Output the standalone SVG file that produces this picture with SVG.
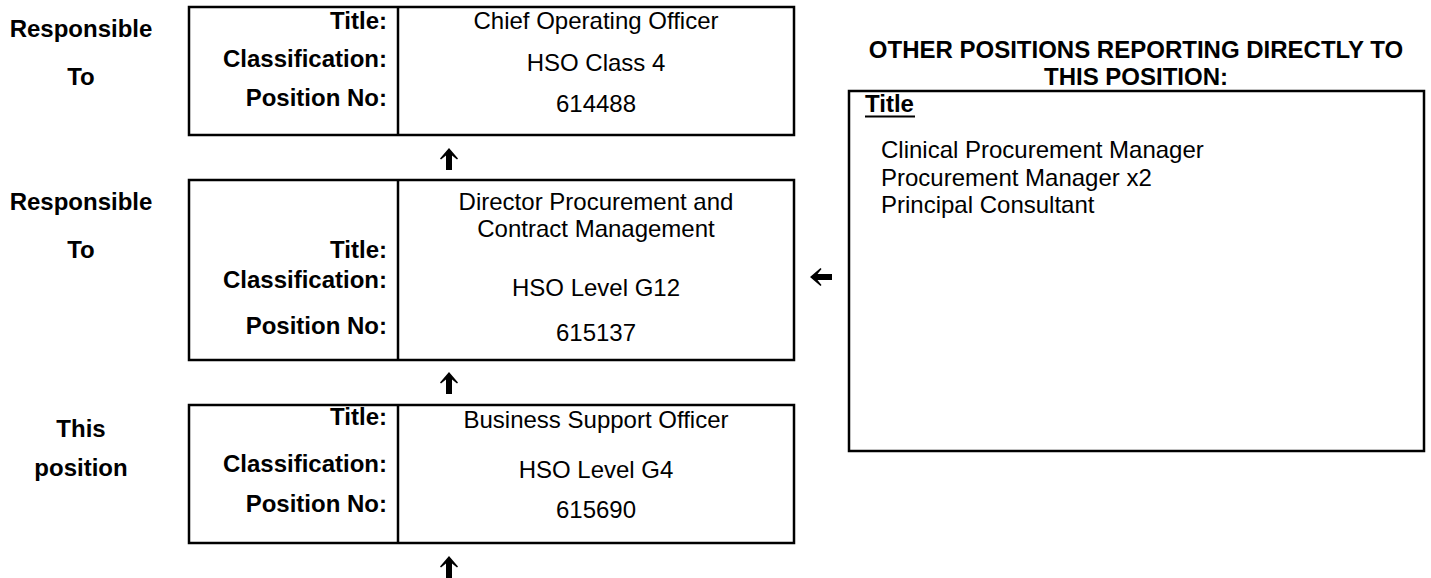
<svg xmlns="http://www.w3.org/2000/svg" xmlns:xlink="http://www.w3.org/1999/xlink" width="1431" height="578" viewBox="0 0 1431 578">
  <style>
    .box { fill: #ffffff; stroke: #000000; stroke-width: 2.5; }
    .div { stroke: #000000; stroke-width: 2.5; }
    .lbl { font-family: "Liberation Sans", Arial, sans-serif; font-size: 24px; font-weight: bold; fill: #000000; text-anchor: end; }
    .val { font-family: "Liberation Sans", Arial, sans-serif; font-size: 24px; fill: #000000; text-anchor: middle; }
    .side { font-family: "Liberation Sans", Arial, sans-serif; font-size: 24px; font-weight: bold; fill: #000000; text-anchor: middle; }
    .head { font-family: "Liberation Sans", Arial, sans-serif; font-size: 24px; font-weight: bold; fill: #000000; text-anchor: middle; }
    .item { font-family: "Liberation Sans", Arial, sans-serif; font-size: 24px; fill: #000000; }
  </style>
  <defs>
    <!-- bold block arrow pointing up, origin at its centre -->
    <path id="arrowUp" d="M0,-11 L9,-0.5 L8,0.5 L3,-3.5 L3,11 L-3,11 L-3,-3.5 L-8,0.5 L-9,-0.5 Z" fill="#000000"/>
  </defs>

  <rect width="1431" height="578" fill="#ffffff"/>

  <!-- row captions -->
  <g id="captions">
    <text class="side" x="81" y="37">Responsible</text>
    <text class="side" x="81" y="85">To</text>
    <text class="side" x="81" y="210">Responsible</text>
    <text class="side" x="81" y="258">To</text>
    <text class="side" x="81" y="437">This</text>
    <text class="side" x="81" y="476">position</text>
  </g>

  <!-- Chief Operating Officer -->
  <g id="node-coo">
    <rect class="box" x="189" y="7" width="605" height="128"/>
    <line class="div" x1="398" y1="7" x2="398" y2="135"/>
    <text class="lbl" x="387" y="29">Title:</text>
    <text class="lbl" x="387" y="67">Classification:</text>
    <text class="lbl" x="387" y="106">Position No:</text>
    <text class="val" x="596" y="29">Chief Operating Officer</text>
    <text class="val" x="596" y="71">HSO Class 4</text>
    <text class="val" x="596" y="112">614488</text>
  </g>

  <!-- Director Procurement and Contract Management -->
  <g id="node-director">
    <rect class="box" x="189" y="180" width="605" height="180"/>
    <line class="div" x1="398" y1="180" x2="398" y2="360"/>
    <text class="lbl" x="387" y="258">Title:</text>
    <text class="lbl" x="387" y="288">Classification:</text>
    <text class="lbl" x="387" y="334">Position No:</text>
    <text class="val" x="596" y="210">Director Procurement and</text>
    <text class="val" x="596" y="237">Contract Management</text>
    <text class="val" x="596" y="296">HSO Level G12</text>
    <text class="val" x="596" y="341">615137</text>
  </g>

  <!-- Business Support Officer -->
  <g id="node-this">
    <rect class="box" x="189" y="405" width="605" height="138"/>
    <line class="div" x1="398" y1="405" x2="398" y2="543"/>
    <text class="lbl" x="387" y="425">Title:</text>
    <text class="lbl" x="387" y="472">Classification:</text>
    <text class="lbl" x="387" y="512">Position No:</text>
    <text class="val" x="596" y="428">Business Support Officer</text>
    <text class="val" x="596" y="478">HSO Level G4</text>
    <text class="val" x="596" y="518">615690</text>
  </g>

  <!-- other positions reporting to the director -->
  <g id="node-others">
    <text class="head" x="1136" y="58">OTHER POSITIONS REPORTING DIRECTLY TO</text>
    <text class="head" x="1136" y="85">THIS POSITION:</text>
    <rect class="box" x="849" y="91" width="575" height="360"/>
    <text class="item" x="865" y="112" font-weight="bold">Title</text>
    <line x1="865" y1="116.5" x2="915" y2="116.5" stroke="#000000" stroke-width="2"/>
    <text class="item" x="881" y="158">Clinical Procurement Manager</text>
    <text class="item" x="881" y="186">Procurement Manager x2</text>
    <text class="item" x="881" y="213">Principal Consultant</text>
  </g>

  <!-- reporting arrows -->
  <g id="connectors">
    <use xlink:href="#arrowUp" transform="translate(449,159)"/>
    <use xlink:href="#arrowUp" transform="translate(449,383)"/>
    <use xlink:href="#arrowUp" transform="translate(449,567)"/>
    <use xlink:href="#arrowUp" transform="translate(821,277) rotate(-90)"/>
  </g>
</svg>
